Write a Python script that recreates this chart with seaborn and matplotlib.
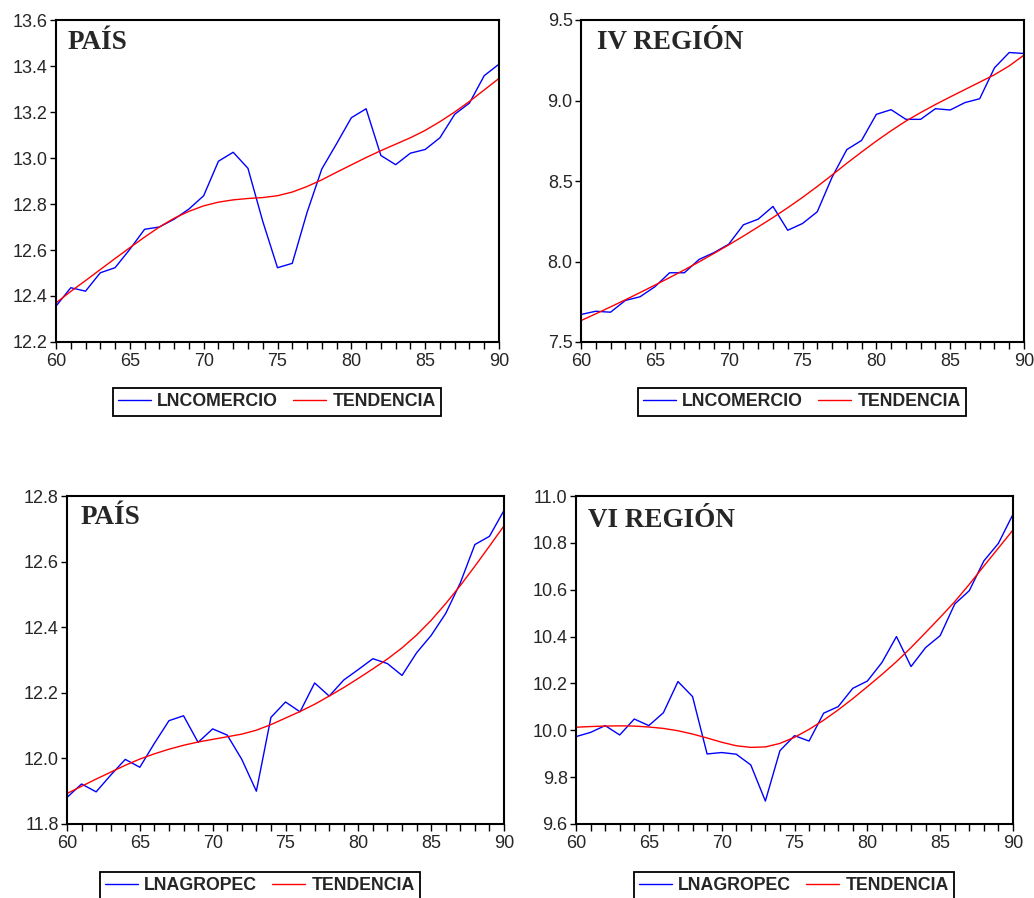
import seaborn as sns
import matplotlib.pyplot as plt
import numpy as np
import pandas as pd

# Years 1960-1990 (shown as 60..90)
years = np.arange(60, 91)

# Top left: country, commerce
pais_com = [12.356, 12.436, 12.421, 12.501, 12.523, 12.603, 12.690, 12.700, 12.734, 12.778,
            12.836, 12.986, 13.025, 12.955, 12.725, 12.523, 12.542, 12.763, 12.952, 13.062,
            13.175, 13.214, 13.011, 12.971, 13.021, 13.037, 13.088, 13.190, 13.239, 13.358,
            13.408]
pais_com_trend = [12.370, 12.420, 12.467, 12.515, 12.563, 12.610, 12.656, 12.700, 12.738, 12.768,
                  12.792, 12.808, 12.818, 12.824, 12.828, 12.836, 12.852, 12.876, 12.905, 12.938,
                  12.970, 13.002, 13.032, 13.060, 13.088, 13.120, 13.158, 13.200, 13.246, 13.296,
                  13.346]

# Top right: IV region, commerce
iv_com = [7.671, 7.691, 7.685, 7.758, 7.781, 7.843, 7.930, 7.930, 8.013, 8.055,
          8.107, 8.228, 8.263, 8.342, 8.194, 8.236, 8.309, 8.523, 8.695, 8.752,
          8.914, 8.943, 8.883, 8.883, 8.949, 8.941, 8.987, 9.011, 9.203, 9.298,
          9.292]
iv_com_trend = [7.633, 7.675, 7.718, 7.762, 7.807, 7.853, 7.900, 7.948, 7.998, 8.050,
                8.103, 8.158, 8.215, 8.273, 8.334, 8.398, 8.466, 8.537, 8.610, 8.680,
                8.748, 8.812, 8.872, 8.925, 8.975, 9.022, 9.068, 9.114, 9.160, 9.215,
                9.282]

# Bottom left: country, agriculture
pais_agro = [11.881, 11.922, 11.898, 11.949, 11.997, 11.973, 12.046, 12.115, 12.130, 12.049,
             12.090, 12.071, 11.997, 11.900, 12.125, 12.172, 12.142, 12.230, 12.190, 12.239,
             12.271, 12.304, 12.289, 12.253, 12.322, 12.375, 12.442, 12.535, 12.652, 12.677,
             12.756]
pais_agro_trend = [11.893, 11.915, 11.937, 11.958, 11.979, 11.998, 12.014, 12.028, 12.040, 12.050,
                   12.058, 12.066, 12.074, 12.086, 12.103, 12.123, 12.143, 12.165, 12.190, 12.216,
                   12.244, 12.273, 12.303, 12.337, 12.376, 12.421, 12.472, 12.527, 12.586, 12.647,
                   12.709]

# Bottom right: VI region, agriculture
vi_agro = [9.973, 9.991, 10.020, 9.980, 10.048, 10.020, 10.075, 10.208, 10.144, 9.899,
           9.905, 9.898, 9.852, 9.698, 9.913, 9.977, 9.954, 10.073, 10.101, 10.179,
           10.210, 10.289, 10.400, 10.272, 10.353, 10.404, 10.539, 10.596, 10.723, 10.798,
           10.922]
vi_agro_trend = [10.013, 10.016, 10.018, 10.019, 10.018, 10.014, 10.008, 9.998, 9.984, 9.967,
                 9.949, 9.934, 9.927, 9.929, 9.944, 9.970, 10.004, 10.043, 10.087, 10.135,
                 10.186, 10.238, 10.293, 10.353, 10.417, 10.482, 10.549, 10.623, 10.701, 10.778,
                 10.855]

sns.set_style('white')
plt.rcParams['font.family'] = ['Liberation Sans', 'DejaVu Sans']

W, H = 1034, 898
fig = plt.figure(figsize=(W / 100, H / 100), dpi=100)

# (left, right, top, bottom) in pixels, title, series, y-range, y-step, legend centre/top
panels = [
    ((56, 499, 20, 342), 'PAÍS', 'LNCOMERCIO', pais_com, pais_com_trend,
     (12.2, 13.6), 0.2, (277, 388), (0.027, 0.91)),
    ((581, 1024, 20, 342), 'IV REGIÓN', 'LNCOMERCIO', iv_com, iv_com_trend,
     (7.5, 9.5), 0.5, (802, 388), (0.036, 0.91)),
    ((67, 504, 496, 824), 'PAÍS', 'LNAGROPEC', pais_agro, pais_agro_trend,
     (11.8, 12.8), 0.2, (260, 872), (0.03, 0.915)),
    ((576, 1013, 496, 824), 'VI REGIÓN', 'LNAGROPEC', vi_agro, vi_agro_trend,
     (9.6, 11.0), 0.2, (794, 872), (0.027, 0.905)),
]

for (l, r, t, b), title, name, serie, trend, ylim, ystep, (lx, ly), (tx, ty) in panels:
    ax = fig.add_axes([l / W, 1 - b / H, (r - l) / W, (b - t) / H])
    df = pd.DataFrame({'year': np.concatenate([years, years]),
                       'value': np.concatenate([serie, trend]),
                       'serie': [name] * len(years) + ['TENDENCIA'] * len(years)})
    sns.lineplot(data=df, x='year', y='value', hue='serie',
                 palette={name: '#0000ff', 'TENDENCIA': '#ff0000'},
                 linewidth=1.0, ax=ax, legend=False)
    ax.set_xlim(60, 90)
    ax.set_ylim(*ylim)
    ax.set_xticks(np.arange(60, 91, 5))
    ax.set_xticks(years, minor=True)
    ax.set_yticks(np.arange(ylim[0], ylim[1] + ystep / 2, ystep))
    ax.yaxis.set_major_formatter(plt.FormatStrFormatter('%.1f'))
    ax.set_xlabel('')
    ax.set_ylabel('')
    ax.tick_params(axis='x', which='both', direction='out', length=5, width=1,
                   color='black', labelsize=13, pad=3, bottom=True)
    ax.tick_params(axis='y', which='major', direction='out', length=4, width=1,
                   color='black', labelsize=13, pad=2, left=True)
    for s in ax.spines.values():
        s.set_color('black')
        s.set_linewidth(1.5)
    ax.text(tx, ty, title, transform=ax.transAxes, family='Liberation Serif',
            fontweight='bold', fontsize=19.5, va='baseline', ha='left')

    handles = [plt.Line2D([], [], color='#0000ff', lw=1),
               plt.Line2D([], [], color='#ff0000', lw=1)]
    leg = ax.legend(handles, [name, 'TENDENCIA'], ncol=2, loc='upper center',
                    bbox_to_anchor=(lx / W, 1 - ly / H), bbox_transform=fig.transFigure,
                    frameon=True, fancybox=False, framealpha=1, edgecolor='black',
                    prop={'weight': 'bold', 'size': 12.8}, handlelength=1.85,
                    handletextpad=0.35, columnspacing=0.85, borderpad=0.3,
                    borderaxespad=0)
    leg.get_frame().set_linewidth(1.3)

fig.savefig('out.png', dpi=100, facecolor='white')
